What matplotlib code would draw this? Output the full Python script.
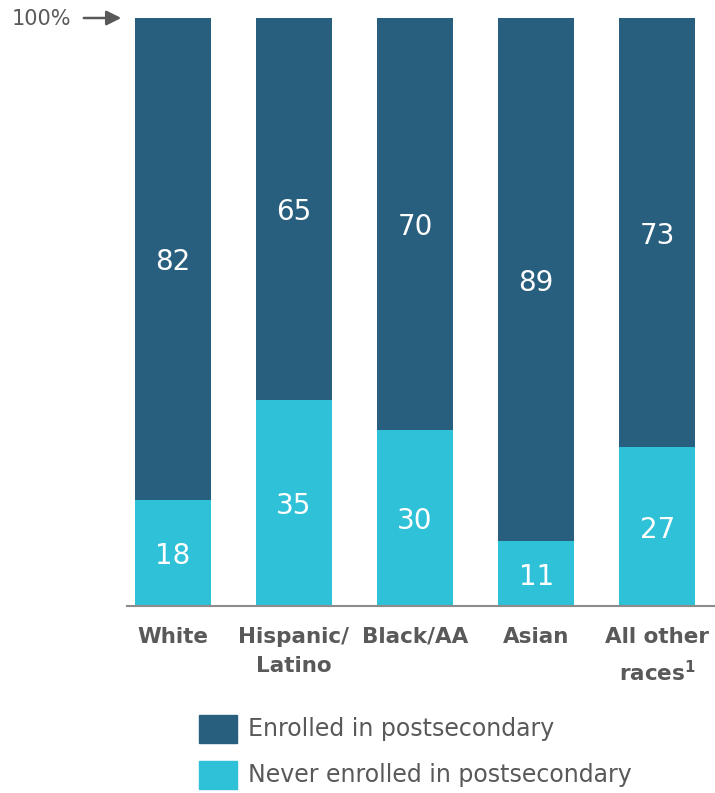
import matplotlib.pyplot as plt
from matplotlib.patches import Rectangle

categories = ['White', 'Hispanic/\nLatino', 'Black/AA', 'Asian', 'All other\nraces$^\\mathbf{1}$']
never_enrolled = [18, 35, 30, 11, 27]
enrolled = [82, 65, 70, 89, 73]

dark = '#285e7e'
cyan = '#2fc1d7'
grey = '#595959'

fig = plt.figure(figsize=(7.15, 7.93), dpi=100)
ax = fig.add_axes([127 / 715, 187 / 793, 588 / 715, 588 / 793])

x = range(len(categories))
w = 0.628
ax.bar(x, never_enrolled, width=w, color=cyan)
ax.bar(x, enrolled, width=w, bottom=never_enrolled, color=dark)

for i in x:
    ax.text(i, never_enrolled[i] / 2, str(never_enrolled[i]), ha='center',
            va='center_baseline', color='white', fontsize=20)
    ax.text(i, never_enrolled[i] + enrolled[i] / 2, str(enrolled[i]), ha='center',
            va='center_baseline', color='white', fontsize=20)

ax.set_xlim(-0.376, 4.475)
ax.set_ylim(0, 100)
for s in ['top', 'right', 'left']:
    ax.spines[s].set_visible(False)
ax.spines['bottom'].set_color('#8c8c8c')
ax.spines['bottom'].set_linewidth(1.5)
ax.set_yticks([])
ax.set_xticks(list(x))
ax.set_xticklabels(categories, fontsize=15.5, fontweight='bold', color=grey, linespacing=1.6)
ax.tick_params(axis='x', length=0, pad=15)

# 100% marker with arrow
fig.text(12 / 715, 1 - 19 / 793, '100%', ha='left', va='center', fontsize=15, color=grey)
ax.annotate('', xy=(124 / 715, 1 - 18 / 793), xytext=(81 / 715, 1 - 18 / 793),
            xycoords='figure fraction', textcoords='figure fraction',
            arrowprops=dict(arrowstyle='-|>', color=grey, lw=1.8, mutation_scale=22))

# legend
for yc, col, lab in [(729, dark, 'Enrolled in postsecondary'),
                     (775, cyan, 'Never enrolled in postsecondary')]:
    fig.patches.append(Rectangle((199 / 715, 1 - (yc + 14) / 793), 38 / 715, 28 / 793,
                                 transform=fig.transFigure, color=col))
    fig.text(248 / 715, 1 - yc / 793, lab, ha='left', va='center', fontsize=17, color=grey)

fig.savefig('out.png', dpi=100)
